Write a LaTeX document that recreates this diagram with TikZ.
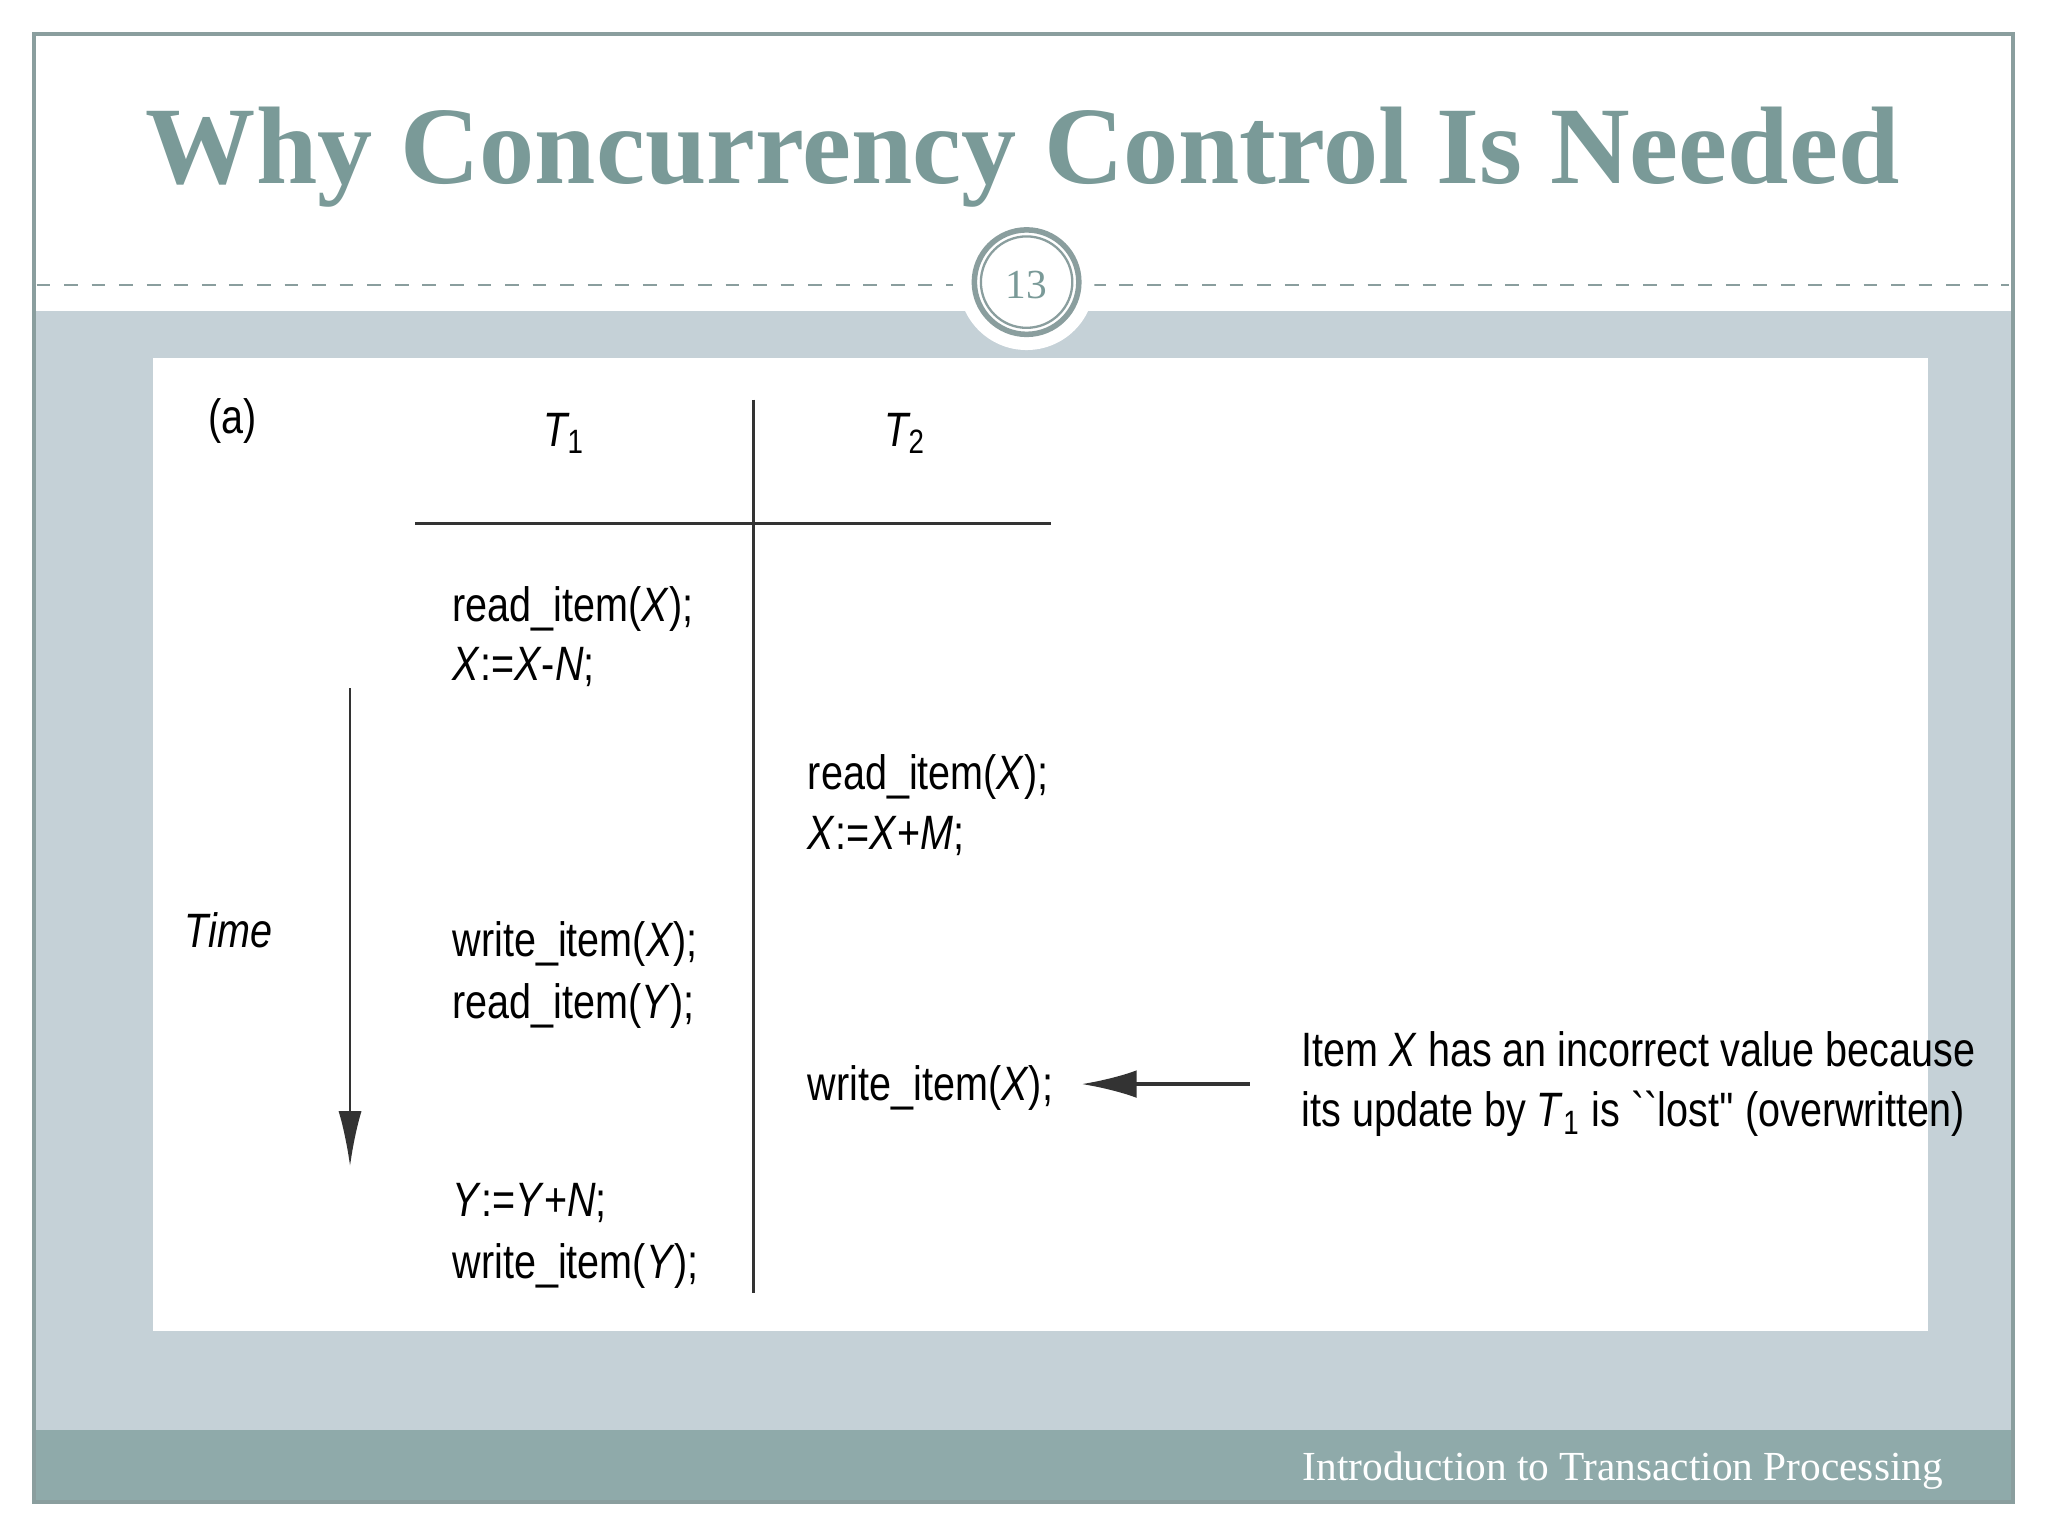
\documentclass[tikz,border=0pt]{standalone}
\usepackage{fontspec}
\usetikzlibrary{arrows.meta}
\setmainfont{Liberation Serif}
\newfontfamily\bodyfont{Liberation Sans}
\definecolor{titlec}{HTML}{7A9A98}
\definecolor{panelbg}{HTML}{C5D1D7}
\definecolor{footc}{HTML}{8FAAAA}
\definecolor{framec}{HTML}{8A9E9E}
\tikzset{
  code/.style={anchor=west,inner sep=0pt,font=\bodyfont\fontsize{10.5}{12}\selectfont,xscale=0.82},
  hdr/.style={inner sep=0pt,font=\bodyfont\fontsize{10.5}{12}\selectfont,xscale=0.82},
  rule/.style={line width=0.6pt,black!80}
}
\begin{document}
\begin{tikzpicture}[x=0.01cm,y=-0.01cm]
\useasboundingbox (0,0) rectangle (1568,1176);
\fill[white] (0,0) rectangle (1568,1176);
\fill[panelbg] (26,238) rectangle (1541,1095);
\fill[footc] (26,1095) rectangle (1541,1150);
\draw[framec,line width=0.8pt] (26,26) rectangle (1541,1150);
\node[text=titlec,font=\fontsize{24}{28}\selectfont\bfseries] (title) at (783,120) {Why Concurrency Control Is Needed};
\draw[framec,dashed,line width=0.5pt] (28,218) -- (730,218);
\draw[framec,dashed,line width=0.5pt] (836,218) -- (1538,218);
\fill[white] (786,216) circle (52);
\draw[framec,line width=1.2pt] (786,216) circle (40);
\draw[framec,line width=0.5pt] (786,216) circle (35);
\node[text=titlec,font=\fontsize{9}{10}\selectfont] (num) at (786,218) {13};
\node[anchor=east,text=white,font=\fontsize{9}{10}\selectfont] (foot) at (1500,1126) {Introduction to Transaction Processing};
\fill[white] (117,274) rectangle (1476,1019);
\node[hdr] (a) at (178,322) {(a)};
\node[hdr] (t1) at (432,332) {\itshape T\textsubscript{\upshape 1}};
\node[hdr] (t2) at (693,332) {\itshape T\textsubscript{\upshape 2}};
\draw[rule] (318,401) -- (805,401);
\draw[rule] (577,306) -- (577,990);
\node[code] (l1) at (346,466) {read\_item(\textit{X});};
\node[code] (l2) at (346,511) {\textit{X}:=\textit{X}-\textit{N};};
\node[code] (l3) at (346,723) {write\_item(\textit{X});};
\node[code] (l4) at (346,770) {read\_item(\textit{Y});};
\node[code] (l5) at (346,921) {\textit{Y}:=\textit{Y}+\textit{N};};
\node[code] (l6) at (346,969) {write\_item(\textit{Y});};
\node[code] (r1) at (618,595) {read\_item(\textit{X});};
\node[code] (r2) at (618,640) {\textit{X}:=\textit{X}+\textit{M};};
\node[code] (r3) at (618,833) {write\_item(\textit{X});};
\node[hdr] (time) at (175,712) {\itshape Time};
\coordinate (ts) at (268,527);
\coordinate (te) at (268,893);
\draw[rule,-{Latex[length=12pt,width=5pt]}] (ts) -- (te);
\coordinate (as) at (957,830);
\coordinate (ae) at (828,830);
\draw[rule,line width=0.8pt,-{Latex[length=12pt,width=6pt]}] (as) -- (ae);
\node[code] (n1) at (996,803) {Item \textit{X} has an incorrect value because};
\node[code] (n2) at (996,853) {its update by \textit{T}\textsubscript{1} is ``lost'' (overwritten)};
\end{tikzpicture}
\end{document}
